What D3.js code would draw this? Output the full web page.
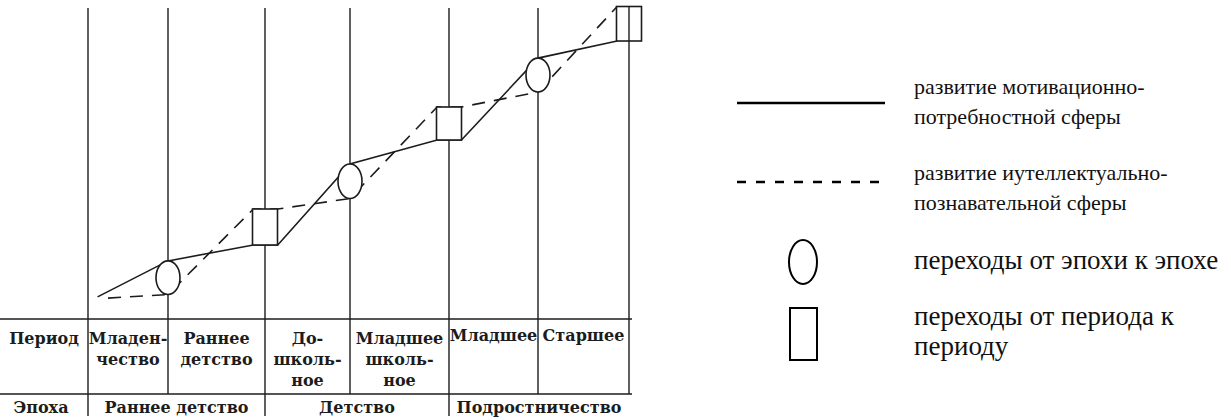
<!DOCTYPE html>
<html>
<head>
<meta charset="utf-8">
<script src="https://cdn.jsdelivr.net/npm/d3@7/dist/d3.min.js"></script>
<style>
  body { margin: 0; background: #fff; }
</style>
</head>
<body>
<div id="chart"></div>
<script>
// periods (columns) and epochs
var periodLabels = [["Младен-", "чество"], ["Раннее", "детство"], ["До-", "школь-", "ное"],
                    ["Младшее", "школь-", "ное"], ["Младшее"], ["Старшее"]];
var epochLabels = ["Раннее детство", "Детство", "Подростничество"];
var epochStart = [0, 2, 4];
var epochEnd = [2, 4, 6];

// development level (0 bottom .. 100 top), t = position in periods
var motivT = [0.12, 1, 1.88, 2.15, 3, 3.88, 4.14, 5, 5.87];
var motivLevel = [1.7, 13.7, 19, 19, 46, 54, 54, 81.3, 87];
var intellT = [0.25, 1, 1.88, 2.15, 3, 3.88, 4.14, 5, 5.87];
var intellLevel = [1.3, 2.5, 31, 31, 34.5, 65, 65, 70, 98.5];

// transitions: epoch -> ellipse, period -> square
var epochTransT = [1, 3, 5];
var epochTransLow = [2.5, 34.5, 70];
var epochTransHigh = [13.7, 46, 81.3];
var periodTransT = [2, 4, 6];
var periodTransLow = [19, 54, 87];
var periodTransHigh = [31, 65, 98.5];

var legendLabels = [["развитие мотивационно-", "потребностной сферы"],
                    ["развитие иутеллектуально-", "познавательной сферы"],
                    ["переходы от эпохи к эпохе"],
                    ["переходы от периода к", "периоду"]];

var width = 1231, height = 420;
var ink = "#1c1c1c";
var chartFont = "'DejaVu Serif', serif";
var legendFont = "'Liberation Serif', 'Times New Roman', serif";

var svg = d3.select("#chart").append("svg")
  .attr("width", width)
  .attr("height", height);

// column edges are not even, piecewise scale
var x = d3.scaleLinear()
  .domain([0, 1, 2, 3, 4, 5, 6])
  .range([88, 168, 265, 350, 449, 538, 629]);

var y = d3.scaleLinear()
  .domain([0, 100])
  .range([302, 2]);

var tableTop = 319, periodBottom = 394, epochBottom = 416;

// vertical lines (last one is the table border, drawn later)
var edges = d3.range(0, 6);
svg.selectAll("line.grid").data(edges).enter().append("line")
  .attr("class", "grid")
  .attr("x1", function (d) { return x(d); })
  .attr("x2", function (d) { return x(d); })
  .attr("y1", 8)
  .attr("y2", function (d) { return epochStart.indexOf(d) >= 0 ? epochBottom : periodBottom; })
  .attr("stroke", ink)
  .attr("stroke-width", 1.4);

// horizontal table lines
svg.selectAll("line.row").data([tableTop, periodBottom]).enter().append("line")
  .attr("class", "row")
  .attr("x1", 0)
  .attr("x2", x(6) + 3)
  .attr("y1", function (d) { return d; })
  .attr("y2", function (d) { return d; })
  .attr("stroke", ink)
  .attr("stroke-width", 1.5);

var line = d3.line()
  .x(function (d) { return x(d[0]); })
  .y(function (d) { return y(d[1]); });

svg.append("path")
  .datum(d3.zip(motivT, motivLevel))
  .attr("d", line)
  .attr("fill", "none")
  .attr("stroke", ink)
  .attr("stroke-width", 1.6);

svg.append("path")
  .datum(d3.zip(intellT, intellLevel))
  .attr("d", line)
  .attr("fill", "none")
  .attr("stroke", ink)
  .attr("stroke-width", 1.6)
  .attr("stroke-dasharray", "13,9");

// epoch transitions
svg.selectAll("ellipse.trans").data(epochTransT).enter().append("ellipse")
  .attr("class", "trans")
  .attr("cx", function (d) { return x(d); })
  .attr("cy", function (d, i) { return y((epochTransLow[i] + epochTransHigh[i]) / 2); })
  .attr("rx", 12)
  .attr("ry", function (d, i) { return (y(epochTransLow[i]) - y(epochTransHigh[i])) / 2; })
  .attr("fill", "#fff")
  .attr("stroke", ink)
  .attr("stroke-width", 1.6);

// period transitions
svg.selectAll("rect.trans").data(periodTransT).enter().append("rect")
  .attr("class", "trans")
  .attr("x", function (d) { return x(d) - 12.5; })
  .attr("width", 25)
  .attr("y", function (d, i) { return y(periodTransHigh[i]); })
  .attr("height", function (d, i) { return y(periodTransLow[i]) - y(periodTransHigh[i]); })
  .attr("fill", "#fff")
  .attr("stroke", ink)
  .attr("stroke-width", 1.6);

// right border of table
svg.append("line")
  .attr("x1", x(6)).attr("x2", x(6))
  .attr("y1", 6).attr("y2", periodBottom)
  .attr("stroke", ink)
  .attr("stroke-width", 1.4);

// table texts
var tbl = svg.append("g")
  .style("font-family", chartFont)
  .style("font-size", "16px")
  .style("font-weight", "bold")
  .attr("fill", ink);

tbl.append("text")
  .attr("x", x(0) / 2)
  .attr("y", 344)
  .attr("text-anchor", "middle")
  .text("Период");

tbl.selectAll("text.period").data(periodLabels).enter().append("text")
  .attr("class", "period")
  .attr("text-anchor", "middle")
  .each(function (d, i) {
    var cx = (x(i) + x(i + 1)) / 2;
    var top = d.length == 1 ? 341 : 344;
    d3.select(this).selectAll("tspan").data(d).enter().append("tspan")
      .attr("x", cx)
      .attr("y", function (s, j) { return top + j * 21; })
      .text(function (s) { return s; });
  });

tbl.append("text")
  .attr("x", x(0) / 2 - 3)
  .attr("y", 413)
  .attr("text-anchor", "middle")
  .text("Эпоха");

tbl.selectAll("text.epoch").data(epochLabels).enter().append("text")
  .attr("class", "epoch")
  .attr("x", function (d, i) { return (x(epochStart[i]) + x(epochEnd[i])) / 2; })
  .attr("y", 413)
  .attr("text-anchor", "middle")
  .text(function (d) { return d; });

// legend
var lg = svg.append("g");
var legendTextX = 914;
var legendBase = [94, 180, 269, 325];
var legendSize = [22, 22, 27, 27];

lg.append("line")
  .attr("x1", 737).attr("x2", 885)
  .attr("y1", 103).attr("y2", 103)
  .attr("stroke", "#000").attr("stroke-width", 2.6);

lg.append("line")
  .attr("x1", 737).attr("x2", 882)
  .attr("y1", 182).attr("y2", 182)
  .attr("stroke", "#000").attr("stroke-width", 2.6)
  .attr("stroke-dasharray", "9,10");

lg.append("ellipse")
  .attr("cx", 803).attr("cy", 262)
  .attr("rx", 14).attr("ry", 22)
  .attr("fill", "none").attr("stroke", "#000").attr("stroke-width", 2);

lg.append("rect")
  .attr("x", 790).attr("y", 308)
  .attr("width", 27).attr("height", 52)
  .attr("fill", "none").attr("stroke", "#000").attr("stroke-width", 2);

lg.selectAll("text").data(legendLabels).enter().append("text")
  .style("font-family", legendFont)
  .style("font-size", function (d, i) { return legendSize[i] + "px"; })
  .attr("fill", "#111")
  .each(function (d, i) {
    d3.select(this).selectAll("tspan").data(d).enter().append("tspan")
      .attr("x", legendTextX)
      .attr("y", function (s, j) { return legendBase[i] + j * 30; })
      .text(function (s) { return s; });
  });
</script>
</body>
</html>
